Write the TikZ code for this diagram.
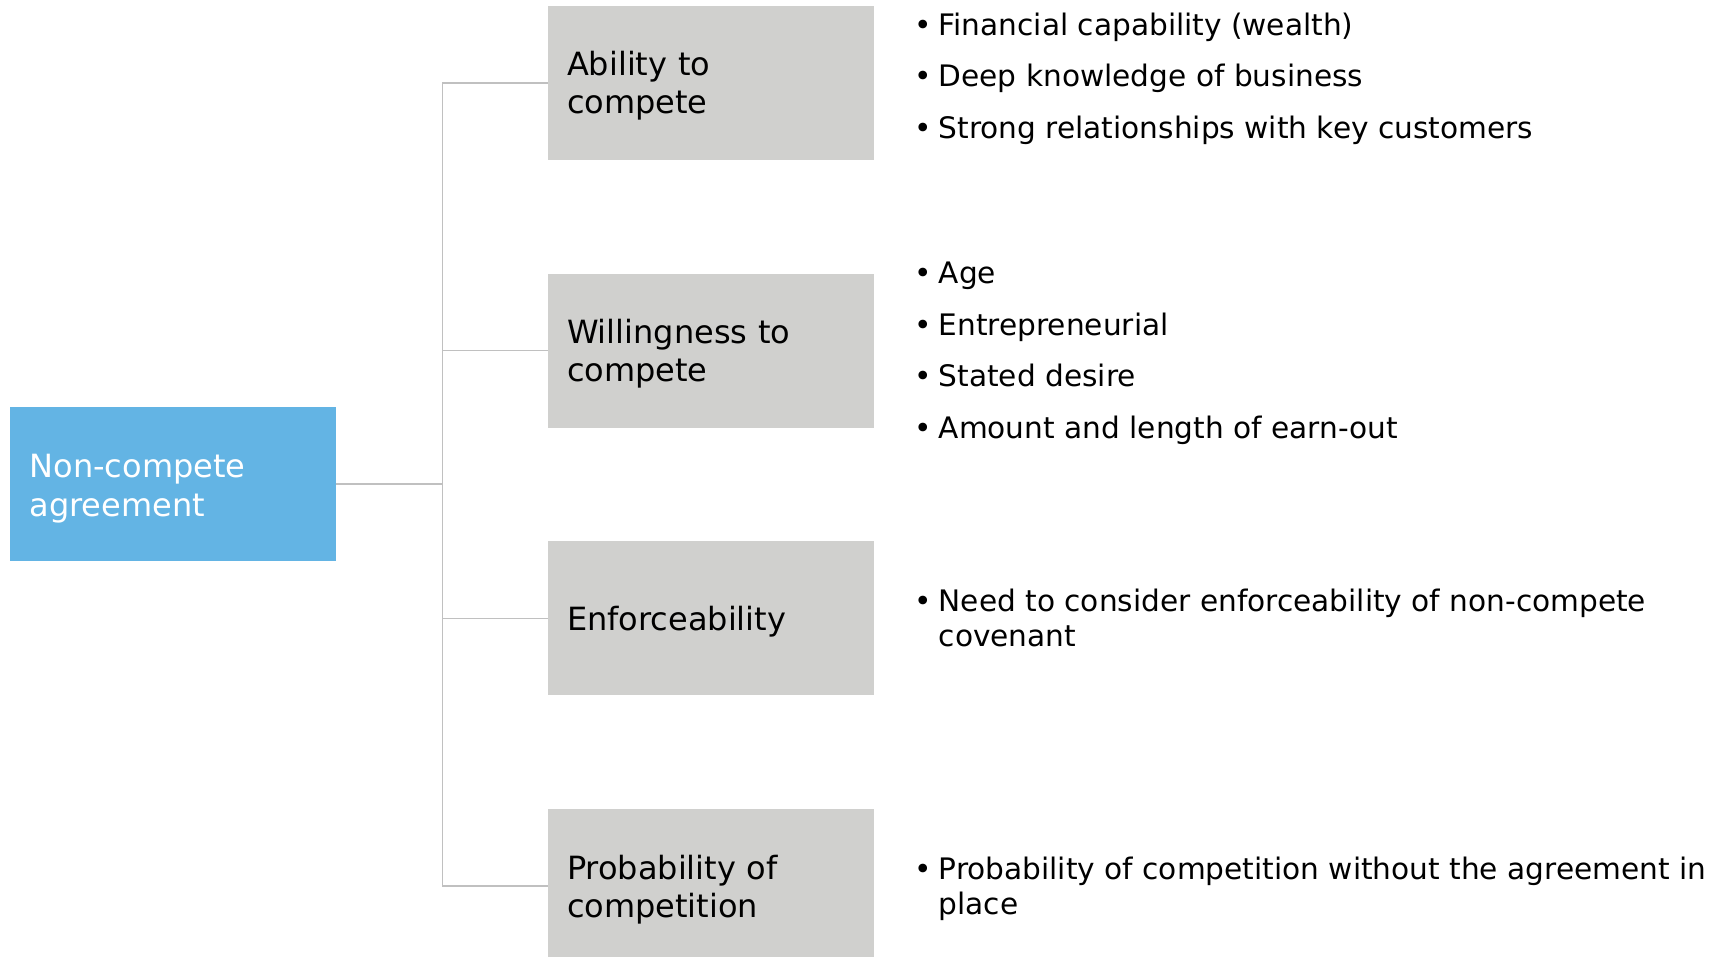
\documentclass[tikz,border=0pt]{standalone}
\usepackage{fontspec}
\setmainfont{DejaVu Sans}
\usetikzlibrary{positioning}
\usetikzlibrary{calc}
\definecolor{topicblue}{RGB}{99,180,228}
\definecolor{factorgrey}{RGB}{208,208,206}
\definecolor{linkgrey}{RGB}{192,192,192}
\newcommand{\lstitem}{\makebox[12pt][l]{\textbullet}}
\newcommand{\lstcont}{\hspace*{12pt}}
\tikzset{
node distance=56.5pt, % vertical gap between the grey boxes
topic/.style={fill=topicblue, text=white, minimum width=163pt, minimum height=77pt, inner xsep=9.75pt, text width=143.5pt, align=left, font=\fontsize{16}{19.5}\selectfont, execute at begin node={\rule{0pt}{16pt}}}, % the blue box on the left
factor/.style={fill=factorgrey, minimum width=163pt, minimum height=77pt, inner xsep=9.5pt, text width=144pt, align=left, font=\fontsize{16}{19}\selectfont, execute at begin node={\rule{0pt}{15.5pt}}}, % the grey boxes
points/.style={anchor=west, inner sep=0pt, align=left, font=\fontsize{14.8}{17.5}\selectfont}, % the bullet lists
link/.style={draw=linkgrey, line width=0.75pt}, % the tree lines
}

\begin{document}
\begin{tikzpicture}
    \useasboundingbox (0,0) rectangle (855.5pt,-478.5pt);
    \node[topic] (root) at (86.5pt,-242pt) {Non-compete\\agreement};
    \node[factor] (ability) at (355.5pt,-41.4pt) {Ability to\\compete};
    \node[factor, below=of ability] (willing) {Willingness to\\compete};
    \node[factor, below=of willing] (enforce) {Enforceability};
    \node[factor, below=of enforce] (prob) {Probability of\\competition};
    \coordinate[right=53pt of root.east] (hub);
    \draw[link] (root.east) -- (hub)
    (ability.west) -| (hub)
    (prob.west) -| (hub)
    (willing.west) -- (willing.west -| hub)
    (enforce.west) -- (enforce.west -| hub);
    \node[points] (abilitylist) at ($(ability.east)+(20pt,2pt)$) {\lstitem Financial capability (wealth)\\[8.2pt]
    \lstitem Deep knowledge of business\\[8.2pt]
    \lstitem Strong relationships with key customers};
    \node[points] (willinglist) at ($(willing.east)+(20pt,-1.3pt)$) {\lstitem Age\\[8.2pt]
    \lstitem Entrepreneurial\\[8.2pt]
    \lstitem Stated desire\\[8.2pt]
    \lstitem Amount and length of earn-out};
    \node[points] (enforcelist) at ($(enforce.east)+(20pt,0pt)$) {\lstitem Need to consider enforceability of non-compete\\
    \lstcont covenant};
    \node[points] (problist) at ($(prob.east)+(20pt,-1.5pt)$) {\lstitem Probability of competition without the agreement in\\
    \lstcont place};
\end{tikzpicture}
\end{document}
